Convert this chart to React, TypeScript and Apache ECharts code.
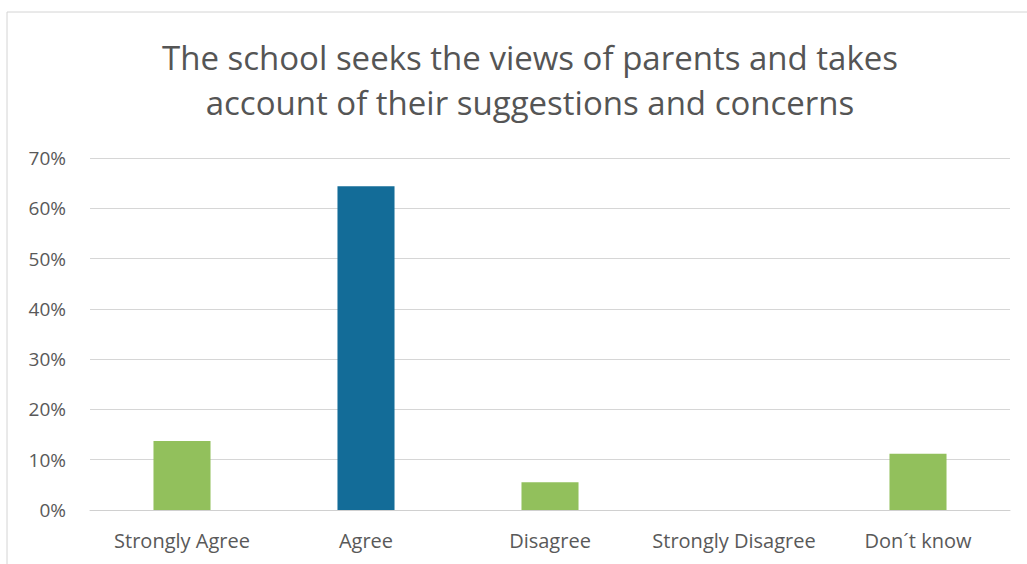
import React, { useEffect, useRef } from "react";
import * as echarts from "echarts";

const categories = ["Strongly Agree", "Agree", "Disagree", "Strongly Disagree", "Don´t know"];
const values = [13.7, 64.4, 5.5, 0, 11.2];
const barColors = ["#92c05c", "#136c98", "#92c05c", "#92c05c", "#92c05c"];
const titleLines = ["The school seeks the views of parents and takes", "account of their suggestions and concerns"];

export default function App() {
  const ref = useRef<HTMLDivElement>(null);
  useEffect(() => {
    const chart = echarts.init(ref.current!, null, { renderer: "svg" });
    chart.setOption({
      animation: false,
      backgroundColor: "#ffffff",
      graphic: [
        {
          type: "rect",
          shape: { x: 7, y: 12, width: 1030, height: 560 },
          style: { fill: "none", stroke: "#d4d4d4", lineWidth: 1 },
        },
      ],
      title: {
        text: titleLines.join("\n"),
        left: 525,
        textAlign: "center",
        top: 30,
        textStyle: {
          fontFamily: "Open Sans",
          fontSize: 33,
          fontWeight: "normal",
          color: "#555555",
          lineHeight: 45,
        },
      },
      grid: { left: 90, right: 17, top: 158, bottom: 54 },
      xAxis: {
        type: "category",
        data: categories,
        axisLine: { show: true, lineStyle: { color: "#d0d0d0" } },
        axisTick: { show: false },
        axisLabel: { color: "#595959", fontSize: 20, fontFamily: "Open Sans", margin: 20, interval: 0 },
      },
      yAxis: {
        type: "value",
        min: 0,
        max: 70,
        interval: 10,
        axisLine: { show: false },
        axisTick: { show: false },
        splitLine: { lineStyle: { color: "#d6d6d6" } },
        axisLabel: { color: "#595959", fontSize: 19, fontFamily: "Open Sans", margin: 24, formatter: "{value}%" },
      },
      series: [
        {
          type: "bar",
          barWidth: "31%",
          data: values.map((v, i) => ({ value: v, itemStyle: { color: barColors[i] } })),
        },
      ],
    });
    return () => chart.dispose();
  }, []);
  return <div ref={ref} style={{ position: "fixed", left: 0, top: 0, width: 1027, height: 564 }} />;
}
